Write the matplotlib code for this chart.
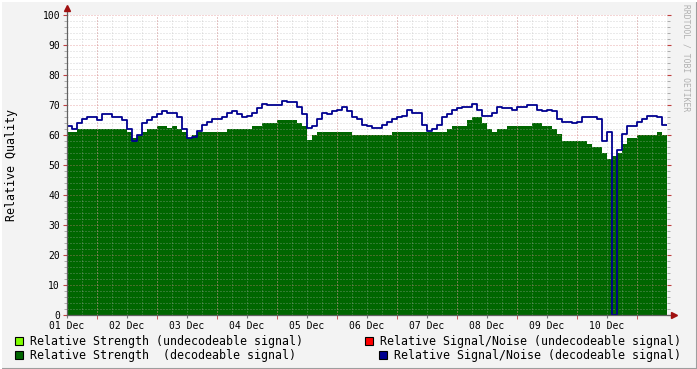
import numpy as np
import matplotlib.pyplot as plt
from matplotlib.patches import Rectangle
from matplotlib.lines import Line2D

plt.rcParams['font.family'] = 'DejaVu Sans Mono'

# day labels on the x axis (one per day)
days = ['01 Dec', '02 Dec', '03 Dec', '04 Dec', '05 Dec',
        '06 Dec', '07 Dec', '08 Dec', '09 Dec', '10 Dec']

# relative strength (decodeable signal), one value every 2 hours
strength = [
    61, 61, 62, 62, 62, 62, 62, 62, 62, 62, 62, 62,
    61, 59, 60, 61, 62, 62, 63, 63, 62.5, 63, 62, 61,
    59, 60, 61, 61, 61, 61, 61, 61, 62, 62, 62, 62,
    62, 63, 63, 64, 64, 64, 65, 65, 65, 65, 64, 63,
    58.5, 60, 61, 61, 61, 61, 61, 61, 61, 60, 60, 60,
    60, 60, 60, 60, 60, 61, 61, 61, 61, 61, 61, 61,
    61, 61, 61, 61, 62, 63, 63, 63, 65, 66, 66, 64,
    62, 61, 62, 62, 63, 63, 63, 63, 63, 64, 64, 63,
    63, 62, 60.5, 58, 58, 58, 58, 58, 57, 56, 56, 54,
    52, 53, 54, 57, 59, 59, 60, 60, 60, 60, 61, 60,
]

# relative signal/noise (decodeable signal), one value every 2 hours
snr = [
    63, 62, 64, 65.5, 66, 66, 65, 67, 67, 66, 66, 65,
    62, 58, 60, 64, 65, 66, 67, 68, 67.5, 67.5, 66, 62,
    59, 59.5, 61.5, 63.5, 64.5, 65.5, 65.5, 66, 67.5, 68, 67, 66,
    66.5, 67.5, 69, 70.5, 70, 70, 70, 71.5, 71, 71, 69.5, 67,
    62.5, 63, 65.5, 67.5, 67, 68, 68.5, 69.5, 68, 66, 65.5, 63.5,
    63, 62.5, 62.5, 63.5, 64.5, 65.5, 66, 66.5, 68.5, 67.5, 67.5, 63.5,
    61.5, 62, 63.5, 66, 67, 68.5, 69, 69.5, 69.5, 70.5, 68.5, 66.5,
    66.5, 67.5, 69.5, 69, 69, 68.5, 69.5, 69.5, 70, 70, 68.5, 68,
    68.5, 68, 65.5, 64.5, 64.5, 64, 64.5, 66, 66, 66, 65.5, 58,
    61, 0, 55, 60.5, 63, 63, 64.5, 65.5, 66.5, 66.5, 66, 63.5,
]

W, H = 697, 369
fig = plt.figure(figsize=(W / 100, H / 100), dpi=100, facecolor='#f3f3f3')
ax = fig.add_axes([67 / W, 54 / H, 600 / W, 300 / H])
ax.set_facecolor('white')

t = np.arange(len(strength) + 1) / 12.0
ax.fill_between(t, 0, strength + [strength[-1]], step='post',
                color='#006600', linewidth=0, zorder=1)
ax.step(t, snr + [snr[-1]], where='post', color='#000090', lw=1.3, zorder=4)

ax.set_xlim(0, 10)
ax.set_ylim(0, 100)

# grid (drawn over the area like rrdtool does)
dots = (0, (1, 2))
for xx in np.arange(0.25, 10, 0.25):
    ax.axvline(xx, color='#b4b4b4', lw=0.72, ls=dots, alpha=0.55, zorder=2)
for xx in np.arange(0.5, 10, 1.0):
    ax.axvline(xx, color='#e08080', lw=0.72, ls=dots, alpha=0.65, zorder=3)
for yy in range(2, 101, 2):
    if yy % 10:
        ax.axhline(yy, color='#b4b4b4', lw=0.72, ls=dots, alpha=0.55, zorder=2)
    else:
        ax.axhline(yy, color='#e08080', lw=0.72, ls=dots, alpha=0.65, zorder=3)

# ticks
ax.set_xticks(range(10), days, fontsize=7)
ax.set_xticks(np.arange(0.5, 10, 1.0), minor=True)
ax.set_yticks(range(0, 101, 10), [str(v) for v in range(0, 101, 10)], fontsize=7)
ax.set_yticks(range(0, 101, 2), minor=True)
ax.tick_params(axis='x', which='major', length=2, color='#808080', pad=2)
ax.tick_params(axis='x', which='minor', length=3, color='#c04040')
ax.tick_params(axis='y', which='major', length=3, color='#c04040', pad=2, right=True)
ax.tick_params(axis='y', which='minor', length=2, color='#a0a0a0', right=True)

for s in ['top', 'right', 'left', 'bottom']:
    ax.spines[s].set_visible(False)

# axis lines with arrow heads
ax.add_line(Line2D([0, 0], [0, 1.025], transform=ax.transAxes, color='#606060',
                   lw=0.9, clip_on=False, zorder=5))
ax.add_line(Line2D([0, 1.012], [0, 0], transform=ax.transAxes, color='#606060',
                   lw=0.9, clip_on=False, zorder=5))
ax.plot([0], [1.025], marker='^', ms=4, color='#a01010', transform=ax.transAxes,
        clip_on=False, zorder=6)
ax.plot([1.012], [0], marker='>', ms=4, color='#a01010', transform=ax.transAxes,
        clip_on=False, zorder=6)

fig.text(12 / W, 1 - 165 / H, 'Relative Quality', rotation=90,
         ha='center', va='center', fontsize=8.4)
fig.text(686 / W, 1 - 4 / H, 'RRDTOOL / TOBI OETIKER', rotation=270,
         ha='center', va='top', fontsize=5.8, color='#b0b0b0')

# legend
legend = [
    (15, 341, '#80ff00', 30, 'Relative Strength (undecodeable signal)'),
    (15, 355, '#006600', 30, 'Relative Strength  (decodeable signal)'),
    (365, 341, '#ff0000', 380, 'Relative Signal/Noise (undecodeable signal)'),
    (379, 355, '#000090', 394, 'Relative Signal/Noise (decodeable signal)'),
]
for bx, by, col, tx, label in legend:
    fig.patches.append(Rectangle((bx / W, 1 - (by + 4) / H), 8 / W, 8 / H,
                                 transform=fig.transFigure, facecolor=col,
                                 edgecolor='black', lw=0.8))
    fig.text(tx / W, 1 - by / H, label, ha='left', va='center', fontsize=8.4)

# frame
fig.add_artist(Line2D([0, 1], [0.5 / H, 0.5 / H], transform=fig.transFigure,
                      color='#9e9e9e', lw=1.5))
fig.add_artist(Line2D([1 - 0.5 / W, 1 - 0.5 / W], [0, 1], transform=fig.transFigure,
                      color='#9e9e9e', lw=1.5))
fig.add_artist(Line2D([0, 1], [1 - 0.5 / H, 1 - 0.5 / H], transform=fig.transFigure,
                      color='#ffffff', lw=1.5))
fig.add_artist(Line2D([0.5 / W, 0.5 / W], [0, 1], transform=fig.transFigure,
                      color='#ffffff', lw=1.5))

fig.savefig('out.png', dpi=100, facecolor=fig.get_facecolor())
